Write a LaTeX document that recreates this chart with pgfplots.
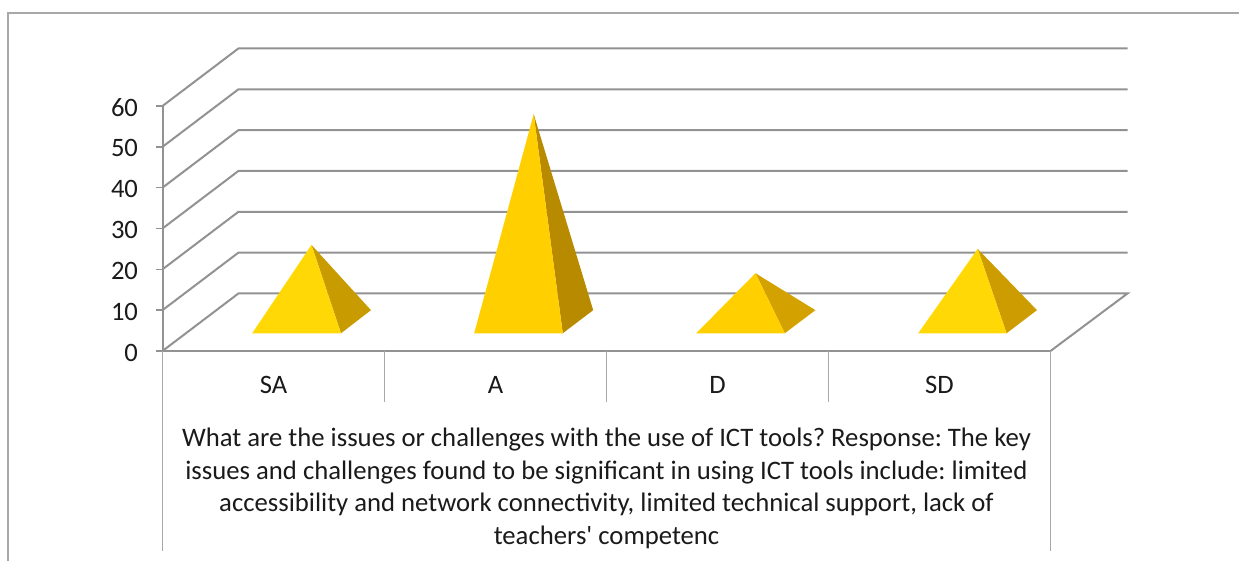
\documentclass[border=0pt]{standalone}
\usepackage{fontspec}
\setmainfont{Carlito}
\usepackage{pgfplots}
\pgfplotsset{compat=1.18}
\definecolor{wall}{HTML}{929292}
\definecolor{frame}{HTML}{A8A8A8}
\definecolor{txt}{HTML}{1A1A1A}
\definecolor{saFront}{HTML}{FFD805}
\definecolor{saSide}{HTML}{C89B00}
\definecolor{aFront}{HTML}{FFCF00}
\definecolor{aSide}{HTML}{B88A00}
\definecolor{dFront}{HTML}{FFCF00}
\definecolor{dSide}{HTML}{D4A200}
\definecolor{sdFront}{HTML}{FFD805}
\definecolor{sdSide}{HTML}{CC9C00}
\begin{document}
\frenchspacing
\begin{tikzpicture}[x=1pt,y=1pt]
    \useasboundingbox (0,0) rectangle (1239,561);
    % chart area frame, open on the right and at the bottom
    \draw[frame, line width=1.9pt] (8.3,0) -- (8.3,548.3) -- (1239,548.3);
    \begin{axis}[
            at={(162.5pt,210pt)}, anchor=south west,
            scale only axis,
            width=888pt, height=245pt,
            xmin=0, xmax=4,
            ymin=0, ymax=60,
            clip=false,
            axis lines=left,
            axis line style={-, wall, line width=2pt},
            xtick={0.5,1.5,2.5,3.5},
            xticklabels={SA,A,D,SD},
            ytick={0,10,20,30,40,50,60},
            tick align=outside,
            major tick length=7pt,
            ytick style={wall, line width=1.6pt},
            xtick style={draw=none},
            /pgf/number format/assume math mode=true,
            tick label style={font=\fontsize{26.6}{30}\selectfont, text=txt},
            xticklabel style={yshift=-15pt},
            yticklabel style={xshift=-14pt, yshift=-1.5pt},
        ]
        % back wall and side wall gridlines
        \addplot[wall, line width=2pt] coordinates {(0,10) (0.342,24.09) (4.347,24.09)};
        \addplot[wall, line width=2pt] coordinates {(0,20) (0.342,34.09) (4.347,34.09)};
        \addplot[wall, line width=2pt] coordinates {(0,30) (0.342,44.09) (4.347,44.09)};
        \addplot[wall, line width=2pt] coordinates {(0,40) (0.342,54.09) (4.347,54.09)};
        \addplot[wall, line width=2pt] coordinates {(0,50) (0.342,64.09) (4.347,64.09)};
        \addplot[wall, line width=2pt] coordinates {(0,60) (0.342,74.09) (4.347,74.09)};
        % floor
        \addplot[wall, line width=2pt] coordinates {(0,0) (0.342,14.09) (4.347,14.09) (4,0)};
        % category dividers
        \addplot[frame, line width=1.7pt] coordinates {(0,0) (0,-49)};
        \addplot[frame, line width=1.7pt] coordinates {(1,0) (1,-12.5)};
        \addplot[frame, line width=1.7pt] coordinates {(2,0) (2,-12.5)};
        \addplot[frame, line width=1.7pt] coordinates {(3,0) (3,-12.5)};
        \addplot[frame, line width=1.7pt] coordinates {(4,0) (4,-49)};
        % SA
        \addplot[fill=saSide, draw=none] coordinates {(0.804,4.34) (0.939,10.0) (0.671,25.98)};
        \addplot[fill=saFront, draw=none] coordinates {(0.404,4.34) (0.804,4.34) (0.671,25.98)};
        % A
        \addplot[fill=aSide, draw=none] coordinates {(1.803,4.34) (1.940,10.0) (1.672,58.0)};
        \addplot[fill=aFront, draw=none] coordinates {(1.404,4.34) (1.803,4.34) (1.672,58.0)};
        % D
        \addplot[fill=dSide, draw=none] coordinates {(2.803,4.34) (2.941,10.0) (2.671,19.04)};
        \addplot[fill=dFront, draw=none] coordinates {(2.404,4.34) (2.803,4.34) (2.671,19.04)};
        % SD
        \addplot[fill=sdSide, draw=none] coordinates {(3.802,4.34) (3.939,10.0) (3.672,25.0)};
        \addplot[fill=sdFront, draw=none] coordinates {(3.404,4.34) (3.802,4.34) (3.672,25.0)};
        \node[anchor=north, align=center, text=txt,
              font=\fontsize{26.7}{32.6}\selectfont]
            at (axis cs:2,-18) {What are the issues or challenges with the use of ICT tools? Response: The key\\
            issues and challenges found to be significant in using ICT tools include: limited\\
            accessibility and network connectivity, limited technical support, lack of\\
            teachers\textquotesingle{} competenc};
    \end{axis}
\end{tikzpicture}
\end{document}
